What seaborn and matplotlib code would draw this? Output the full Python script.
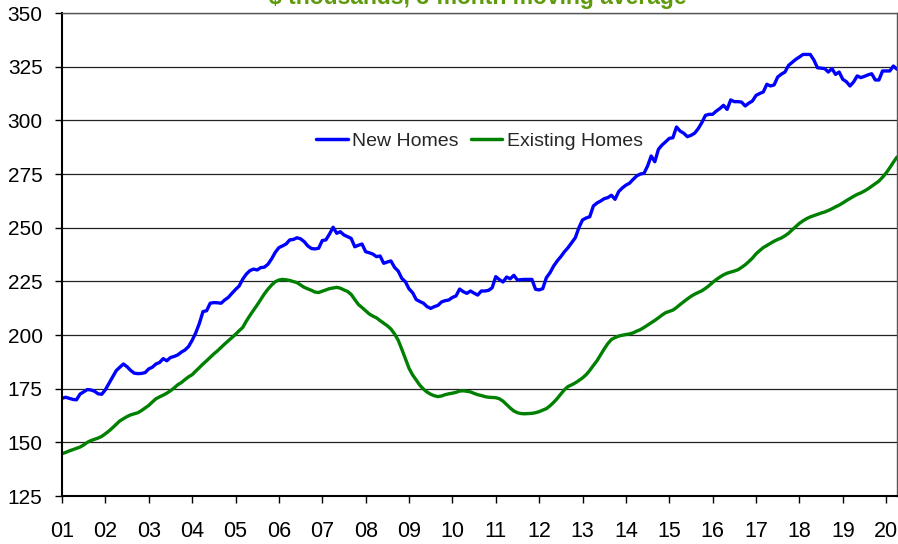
import numpy as np
import pandas as pd
import seaborn as sns
import matplotlib
matplotlib.use("Agg")
import matplotlib.pyplot as plt

# monthly values, Jan 2001 - Apr 2020 ($ thousands, 3-month moving average)
new_homes = [
    170.5, 171.0, 170.5, 170.0, 169.8, 172.5, 173.5, 174.6, 174.4, 173.8, 172.6, 172.4,  # 2001
    174.5, 177.5, 180.5, 183.4, 185.0, 186.5, 185.2, 183.5, 182.2, 182.0, 182.1, 182.5,  # 2002
    184.2, 185.0, 186.5, 187.2, 189.0, 188.0, 189.5, 190.0, 190.7, 192.0, 193.0, 194.6,  # 2003
    197.5, 201.0, 205.4, 210.9, 211.3, 214.8, 215.1, 215.0, 214.8, 216.3, 217.5, 219.4,  # 2004
    221.2, 222.8, 226.0, 228.4, 230.0, 230.7, 230.3, 231.4, 231.6, 233.0, 235.5, 238.5,  # 2005
    240.7, 241.5, 242.4, 244.3, 244.5, 245.3, 244.8, 243.5, 241.5, 240.3, 240.1, 240.4,  # 2006
    244.0, 244.3, 247.0, 250.2, 247.4, 248.1, 246.6, 245.8, 245.0, 241.1, 241.8, 242.4,  # 2007
    238.8, 238.3, 237.7, 236.5, 236.8, 233.4, 234.0, 234.5, 231.5, 229.8, 226.4, 224.8,  # 2008
    221.5, 219.7, 216.5, 215.6, 214.8, 213.2, 212.4, 213.2, 213.8, 215.4, 216.0, 216.3,  # 2009
    217.5, 218.2, 221.4, 220.2, 219.4, 220.5, 219.5, 218.6, 220.5, 220.5, 220.8, 222.0,  # 2010
    227.2, 225.8, 224.7, 227.0, 226.2, 227.8, 225.6, 225.8, 225.9, 225.9, 225.9, 221.3,  # 2011
    221.0, 221.6, 226.7, 229.0, 232.1, 234.5, 236.5, 238.8, 240.7, 243.0, 245.3, 250.0,  # 2012
    253.6, 254.5, 255.1, 260.1, 261.5, 262.4, 263.5, 264.0, 265.1, 263.2, 266.8, 268.5,  # 2013
    269.8, 270.7, 272.5, 274.1, 275.0, 275.3, 278.7, 283.4, 280.7, 286.5, 288.5, 290.0,  # 2014
    291.6, 291.9, 296.9, 295.0, 294.0, 292.4, 293.0, 294.0, 296.1, 298.9, 302.3, 302.8,  # 2015
    302.8, 304.3, 305.5, 307.0, 305.1, 309.5, 308.7, 308.7, 308.5, 306.7, 308.0, 309.0,  # 2016
    311.6, 312.5, 313.2, 316.8, 316.0, 316.5, 320.2, 321.5, 322.5, 325.6, 327.0, 328.4,  # 2017
    329.5, 330.7, 330.7, 330.7, 328.1, 324.5, 324.3, 324.1, 322.5, 324.1, 321.4, 322.5,  # 2018
    319.1, 318.0, 316.0, 317.9, 320.7, 319.9, 320.5, 321.2, 321.7, 318.8, 318.8, 323.0,  # 2019
    323.0, 323.0, 325.3, 323.8,                                                          # 2020
]

existing_homes = [
    144.7, 145.3, 146.0, 146.6, 147.2, 147.8, 148.8, 150.0, 150.8, 151.4, 152.0, 152.8,  # 2001
    154.0, 155.3, 156.8, 158.4, 160.0, 161.0, 162.0, 162.8, 163.3, 163.8, 164.8, 166.0,  # 2002
    167.2, 168.8, 170.3, 171.2, 172.0, 172.9, 174.0, 175.3, 176.8, 177.8, 179.2, 180.5,  # 2003
    181.5, 183.2, 184.8, 186.5, 188.0, 189.6, 191.2, 192.6, 194.2, 195.8, 197.3, 198.8,  # 2004
    200.3, 202.0, 203.5, 206.5, 209.1, 211.6, 214.0, 216.6, 219.2, 221.4, 223.3, 224.8,  # 2005
    225.6, 225.9, 225.7, 225.4, 224.9, 224.4, 223.3, 222.2, 221.5, 220.8, 220.0, 219.8,  # 2006
    220.4, 221.0, 221.6, 221.9, 222.2, 221.8, 221.0, 220.3, 218.9, 216.5, 214.2, 212.8,  # 2007
    211.3, 209.8, 208.8, 208.0, 206.7, 205.5, 204.3, 202.8, 200.5, 197.6, 193.4, 189.0,  # 2008
    184.5, 181.4, 179.0, 176.6, 174.8, 173.4, 172.4, 171.7, 171.3, 171.6, 172.2, 172.6,  # 2009
    172.9, 173.3, 173.9, 174.0, 173.8, 173.5, 172.8, 172.2, 171.8, 171.3, 171.0, 170.9,  # 2010
    170.8, 170.3, 169.2, 167.6, 166.0, 164.6, 163.8, 163.4, 163.3, 163.4, 163.5, 163.8,  # 2011
    164.3, 165.0, 165.7, 167.0, 168.6, 170.4, 172.5, 174.5, 176.0, 176.8, 177.7, 178.8,  # 2012
    180.0, 181.5, 183.5, 185.8, 188.0, 190.8, 193.5, 196.0, 197.9, 198.8, 199.5, 199.9,  # 2013
    200.2, 200.5, 201.0, 201.8, 202.5, 203.5, 204.6, 205.7, 206.8, 208.0, 209.3, 210.4,  # 2014
    211.0, 211.6, 212.8, 214.2, 215.5, 216.8, 218.0, 219.0, 219.8, 220.6, 221.7, 223.0,  # 2015
    224.5, 225.8, 227.0, 228.0, 228.8, 229.3, 229.8, 230.4, 231.5, 232.7, 234.2, 235.8,  # 2016
    237.8, 239.3, 240.7, 241.7, 242.7, 243.7, 244.5, 245.2, 246.2, 247.4, 249.0, 250.5,  # 2017
    252.0, 253.2, 254.2, 255.0, 255.6, 256.2, 256.8, 257.3, 258.0, 258.8, 259.7, 260.5,  # 2018
    261.5, 262.6, 263.6, 264.6, 265.5, 266.2, 267.1, 268.1, 269.3, 270.5, 271.7, 273.5,  # 2019
    275.5, 277.9, 280.5, 282.9,                                                          # 2020
]

series_names = ["New Homes", "Existing Homes"]
series_colors = ["#0000FF", "#008000"]
year_ticks = list(range(2001, 2021))
year_labels = ["%02d" % (y % 100) for y in year_ticks]
y_ticks = [125, 150, 175, 200, 225, 250, 275, 300, 325, 350]

# x position in years (first month = Jan 2001)
t = 2001 + np.arange(len(new_homes)) / 12.0
df = pd.DataFrame({
    "t": np.concatenate([t, t]),
    "price": new_homes + existing_homes,
    "series": [series_names[0]] * len(new_homes) + [series_names[1]] * len(existing_homes),
})

sns.set_style("white")
plt.rcParams["font.family"] = ["Liberation Sans", "DejaVu Sans"]

fig = plt.figure(figsize=(8.98, 5.44), dpi=100)
ax = fig.add_axes([62 / 898, 1 - 496 / 544, 835 / 898, 483 / 544])

sns.lineplot(data=df, x="t", y="price", hue="series", hue_order=series_names,
             palette=series_colors, linewidth=2.4, ax=ax)

ax.set_xlim(t[0], t[-1])
ax.set_ylim(125, 350)
ax.set_xticks(year_ticks)
ax.set_xticklabels(year_labels)
ax.set_yticks(y_ticks)
ax.set_xlabel("")
ax.set_ylabel("")

ax.grid(axis="y", color="#222222", linewidth=0.9)
ax.set_axisbelow(True)
ax.tick_params(axis="x", direction="out", length=5, width=1, pad=13, labelsize=15.5, colors="black")
ax.tick_params(axis="y", direction="out", length=5, width=1, pad=9, labelsize=15, colors="black")
ax.tick_params(bottom=True, left=True)

for side in ["left", "bottom"]:
    ax.spines[side].set_color("black")
    ax.spines[side].set_linewidth(1.5)
for side in ["top", "right"]:
    ax.spines[side].set_color("#555555")
    ax.spines[side].set_linewidth(1)

leg = ax.legend(loc="center", bbox_to_anchor=(0.5, 0.735), ncol=2, frameon=False,
                fontsize=14, handlelength=1.6, handletextpad=0.25, columnspacing=0.6)
for line in leg.get_lines():
    line.set_linewidth(2.5)

# title sits mostly above the top edge, as in the source image
fig.text(0.532, 1 - 4 / 544, "$ thousands, 3-month moving average", ha="center",
         va="baseline", color="#5f9a0c", fontsize=16.5, fontweight="bold")

fig.savefig("out.png", dpi=100)
